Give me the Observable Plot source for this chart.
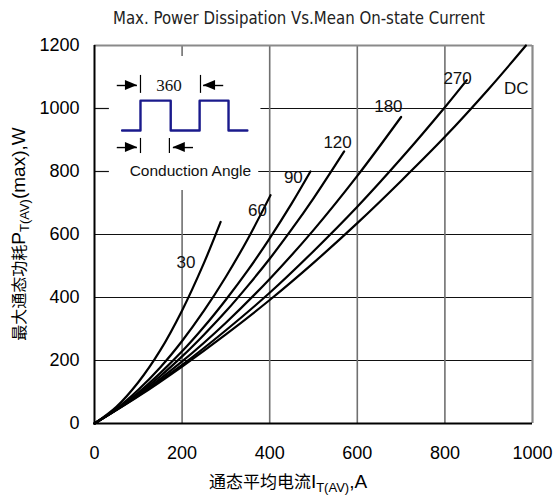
<!DOCTYPE html>
<html>
<head>
<meta charset="utf-8">
<script src="https://cdn.jsdelivr.net/npm/d3@7"></script>
<script src="https://cdn.jsdelivr.net/npm/@observablehq/plot@0.6"></script>
<style>
  html, body { margin: 0; padding: 0; background: #fff; }
  #chart svg { display: block; }
</style>
</head>
<body>
<div id="chart"></div>
<script>
// ---- Data ----
const xTicks = [0, 200, 400, 600, 800, 1000];
const yTicks = [0, 200, 400, 600, 800, 1000, 1200];

const curveNames = ["30", "60", "90", "120", "180", "270", "DC"];
const curveI = [
  [0, 50, 100, 150, 200, 250, 288],
  [0, 50, 100, 150, 200, 250, 300, 350, 402],
  [0, 50, 100, 150, 200, 250, 300, 350, 400, 450, 493],
  [0, 50, 100, 150, 200, 250, 300, 350, 400, 450, 500, 570],
  [0, 100, 200, 300, 400, 500, 600, 700],
  [0, 100, 200, 300, 400, 500, 600, 700, 800, 850],
  [0, 100, 200, 300, 400, 500, 600, 700, 800, 900, 985]
];
const curveP = [
  [0, 53, 131, 232, 359, 510, 640],
  [0, 47, 107, 178, 262, 358, 466, 586, 725],
  [0, 45, 98, 160, 229, 307, 393, 486, 588, 698, 800],
  [0, 44, 94, 150, 213, 282, 356, 437, 523, 616, 715, 864],
  [0, 90, 197, 320, 459, 614, 786, 973],
  [0, 88, 186, 296, 415, 547, 688, 841, 1004, 1090],
  [0, 86, 181, 283, 392, 510, 636, 770, 910, 1062, 1200]
];

// curve label positions
const labelText = ["30", "60", "90", "120", "180", "270", "DC"];
const labelX = [209, 372, 454, 555, 671, 829, 963];
const labelY = [511, 676, 781, 892, 1006, 1095, 1063];

// grid segments (horizontal)
const hGridY  = [200, 400, 600, 800, 1000, 800, 1000];
const hGridX1 = [0, 0, 0, 375, 380, 0, 0];
const hGridX2 = [1000, 1000, 1000, 1000, 1000, 34, 34];
// grid segments (vertical)
const vGridX  = [200, 200, 400, 600, 800];
const vGridY1 = [0, 1165, 0, 0, 0];
const vGridY2 = [740, 1200, 1200, 1200, 1200];

// inset: conduction-angle waveform
const waveX = [63, 105, 105, 174, 174, 240, 240, 306, 306, 349];
const waveY = [930, 930, 1025, 1025, 930, 930, 1025, 1025, 930, 930];
// inset: marker bars
const barX  = [105, 242, 105, 171];
const barY1 = [1048, 1048, 857, 857];
const barY2 = [1105, 1105, 905, 905];
// inset: arrow shafts
const shaftY  = [1073, 1073, 876, 876];
const shaftX1 = [52, 295, 52, 226];
const shaftX2 = [98, 249, 98, 180];
const arrowDir = [1, -1, 1, -1];

// ---- Build tables ----
const curves = curveNames.flatMap((n, k) => curveI[k].map((v, j) => ({name: n, i: v, p: curveP[k][j]})));
const labels = labelText.map((t, k) => ({t, x: labelX[k], y: labelY[k]}));
const hGrid = hGridY.map((y, k) => ({y, x1: hGridX1[k], x2: hGridX2[k]}));
const vGrid = vGridX.map((x, k) => ({x, y1: vGridY1[k], y2: vGridY2[k]}));
const wave = waveX.map((x, k) => ({x, y: waveY[k]}));
const bars = barX.map((x, k) => ({x, y1: barY1[k], y2: barY2[k]}));
const shafts = shaftY.map((y, k) => ({y, x1: shaftX1[k], x2: shaftX2[k], dir: arrowDir[k]}));

const sans = "'Liberation Sans', Arial, sans-serif";

const plot = Plot.plot({
  width: 558,
  height: 495,
  marginTop: 45,
  marginLeft: 94,
  marginRight: 26,
  marginBottom: 72,
  style: {fontFamily: sans, fontSize: "18px", background: "#fff", color: "#000", overflow: "visible"},
  x: {domain: [0, 1000], ticks: xTicks, tickFormat: d => String(d), tickSize: 0, tickPadding: 23, label: null},
  y: {domain: [0, 1200], ticks: yTicks, tickFormat: d => String(d), tickSize: 0, tickPadding: 15, label: null},
  marks: [
    Plot.ruleY(hGrid, {y: "y", x1: "x1", x2: "x2", stroke: "#111", strokeWidth: 1.2}),
    Plot.ruleX(vGrid, {x: "x", y1: "y1", y2: "y2", stroke: "#707070", strokeWidth: 1.6}),
    Plot.ruleY([1200], {stroke: "#8a8a8a", strokeWidth: 2.2}),
    Plot.ruleX([1000], {stroke: "#8a8a8a", strokeWidth: 2.2}),
    Plot.ruleY([0], {stroke: "#000", strokeWidth: 2}),
    Plot.ruleX([0], {stroke: "#000", strokeWidth: 2}),
    Plot.line(curves, {x: "i", y: "p", z: "name", stroke: "#000", strokeWidth: 2.2, curve: "catmull-rom"}),
    Plot.text(labels, {x: "x", y: "y", text: "t", fontSize: 17, fill: "#111"}),
    Plot.line(wave, {x: "x", y: "y", stroke: "#1a1a8c", strokeWidth: 2.4}),
    Plot.ruleX(bars, {x: "x", y1: "y1", y2: "y2", stroke: "#000", strokeWidth: 1.2}),
    Plot.ruleY(shafts, {y: "y", x1: "x1", x2: "x2", stroke: "#000", strokeWidth: 1.4}),
    Plot.text(["360"], {x: 170, y: 1073, text: d => d, fontFamily: "'Liberation Serif', 'Times New Roman', serif", fontSize: 17, fill: "#111"}),
    Plot.text(["Conduction Angle"], {x: 219, y: 803, text: d => d, fontSize: 15.5, fill: "#111"})
  ]
});

document.getElementById("chart").appendChild(plot);

const sx = plot.scale("x"), sy = plot.scale("y");
const svg = d3.select(plot);

// arrow heads
svg.append("g").selectAll("path").data(shafts).join("path")
  .attr("fill", "#000")
  .attr("d", d => {
    const tx = sx.apply(d.x2), ty = sy.apply(d.y);
    const bx = tx - d.dir * 12;
    return `M${tx},${ty}L${bx},${ty - 5}L${bx},${ty + 5}Z`;
  });

// title
svg.append("text")
  .attr("x", 299).attr("y", 24)
  .attr("text-anchor", "middle")
  .attr("font-family", "'Liberation Sans Narrow', 'DejaVu Sans Condensed', " + sans)
  .attr("font-size", 17)
  .attr("textLength", 372).attr("lengthAdjust", "spacingAndGlyphs")
  .attr("fill", "#222")
  .text("Max. Power Dissipation Vs.Mean On-state Current");

// x-axis label
const xl = svg.append("text")
  .attr("x", 288).attr("y", 488)
  .attr("text-anchor", "middle")
  .attr("fill", "#000").style("fill", "#000");
xl.append("tspan").attr("font-family", "'Noto Sans CJK SC', sans-serif").attr("font-size", 17).attr("fill", "#000").text("通态平均电流");
xl.append("tspan").attr("font-size", 19).attr("fill", "#000").text("I");
xl.append("tspan").attr("font-size", 13).attr("dy", 4).attr("fill", "#000").text("T(AV)");
xl.append("tspan").attr("font-size", 19).attr("dy", -4).attr("fill", "#000").text(",A");

// y-axis label
const yl = svg.append("text")
  .attr("transform", "translate(25,234) rotate(-90)")
  .attr("text-anchor", "middle")
  .attr("fill", "#000").style("fill", "#000");
yl.append("tspan").attr("font-family", "'Noto Sans CJK SC', sans-serif").attr("font-size", 16).attr("fill", "#000").text("最大通态功耗");
yl.append("tspan").attr("font-size", 19).attr("fill", "#000").text("P");
yl.append("tspan").attr("font-size", 13).attr("dy", 4).attr("fill", "#000").text("T(AV)");
yl.append("tspan").attr("font-size", 19).attr("dy", -4).attr("fill", "#000").text("(max),W");
</script>
</body>
</html>
